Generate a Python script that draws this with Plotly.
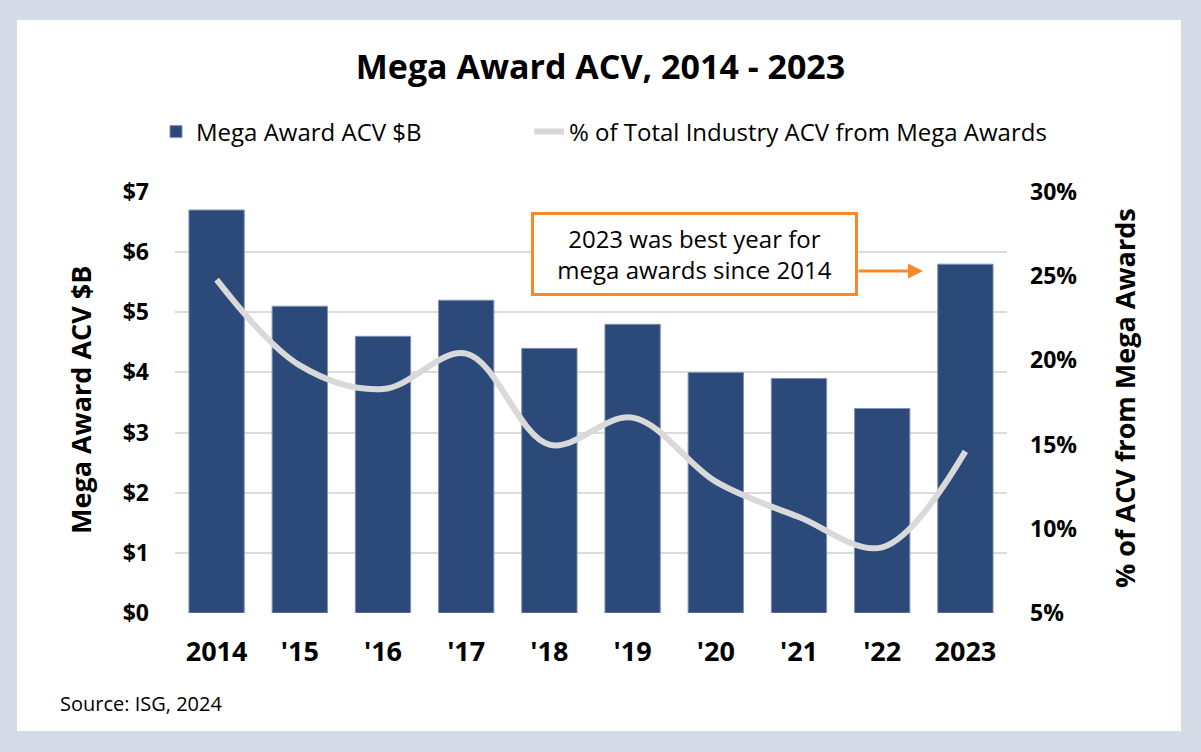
import plotly.graph_objects as go

# ---- data ----
categories = ["2014", "'15", "'16", "'17", "'18", "'19", "'20", "'21", "'22", "2023"]
acv_billions = [6.7, 5.1, 4.6, 5.2, 4.4, 4.8, 4.0, 3.9, 3.4, 5.8]
pct_total_acv = [24.8, 19.7, 18.3, 20.4, 15.0, 16.6, 12.8, 10.7, 8.9, 14.6]
left_tickvals = [0, 1, 2, 3, 4, 5, 6, 7]
left_ticktext = ["$0", "$1", "$2", "$3", "$4", "$5", "$6", "$7"]
right_tickvals = [5, 10, 15, 20, 25, 30]
right_ticktext = ["5%", "10%", "15%", "20%", "25%", "30%"]

BAR = "#2B4A7A"
LINE = "#D9D9D9"
ORANGE = "#F7892B"
FRAME = "#D5DBE6"
FONT = "Open Sans"

fig = go.Figure()
fig.add_trace(go.Bar(
    x=categories, y=acv_billions, name="Mega Award ACV $B",
    marker=dict(color=BAR, line=dict(color="#7F93B3", width=1)),
    legend="legend",
))
fig.add_trace(go.Scatter(
    x=categories, y=pct_total_acv, yaxis="y2", mode="lines",
    name="% of Total Industry ACV from Mega Awards",
    line=dict(color=LINE, width=6, shape="spline", smoothing=1.0),
    legend="legend2",
))

W, H = 1201, 752
L, R, T, B = 175, 194, 192, 139
pw, ph = W - L - R, H - T - B

def px_x(x):
    return (x - L) / pw

def px_y(y):
    return (H - B - y) / ph

legend_font = dict(size=24, family=FONT, color="black")

fig.update_layout(
    width=W, height=H,
    margin=dict(l=L, r=R, t=T, b=B, pad=0),
    paper_bgcolor=FRAME, plot_bgcolor="white",
    font=dict(family=FONT, color="black"),
    bargap=0.335,
    title=dict(text="Mega Award ACV, 2014 - 2023", x=0.5, xref="container",
               xanchor="center", y=1 - 67 / H, yref="container", yanchor="middle",
               font=dict(size=34, weight="bold", family=FONT, color="black")),
    showlegend=True,
    legend=dict(orientation="h", x=px_x(156), y=px_y(132), xanchor="left", yanchor="middle",
                font=legend_font, bgcolor="rgba(0,0,0,0)"),
    legend2=dict(orientation="h", x=px_x(529), y=px_y(132), xanchor="left", yanchor="middle",
                 font=legend_font, bgcolor="rgba(0,0,0,0)"),
    xaxis=dict(type="category", showgrid=False, showline=False, zeroline=False,
               tickfont=dict(size=27, weight="bold", family=FONT, color="black"),
               ticklabelstandoff=20),
    yaxis=dict(range=[0, 7], tickvals=left_tickvals, ticktext=left_ticktext,
               showgrid=True, gridcolor="#DCDCDC", gridwidth=1.5, zeroline=False,
               showline=False,
               tickfont=dict(size=23, weight="bold", family=FONT, color="black"),
               ticklabelstandoff=25),
    yaxis2=dict(range=[5, 30], tickvals=right_tickvals, ticktext=right_ticktext,
                overlaying="y", side="right", showgrid=False, zeroline=False,
                showline=False,
                tickfont=dict(size=23, weight="bold", family=FONT, color="black"),
                ticklabelstandoff=22),
    shapes=[dict(type="rect", xref="paper", yref="paper",
                 x0=px_x(17), x1=px_x(1181), y0=px_y(731), y1=px_y(20),
                 fillcolor="white", line=dict(width=0), layer="below")],
    annotations=[
        dict(text="Mega Award ACV $B", textangle=-90, xref="paper", yref="paper",
             x=px_x(80), y=px_y(400), showarrow=False, xanchor="center", yanchor="middle",
             font=dict(size=27, weight="bold", family=FONT, color="black")),
        dict(text="% of ACV from Mega Awards", textangle=-90, xref="paper", yref="paper",
             x=px_x(1124), y=px_y(398), showarrow=False, xanchor="center", yanchor="middle",
             font=dict(size=27, weight="bold", family=FONT, color="black")),
        dict(text="Source: ISG, 2024", xref="paper", yref="paper",
             x=px_x(58), y=px_y(703), showarrow=False, xanchor="left", yanchor="middle",
             font=dict(size=20, family=FONT, color="black")),
        dict(text="2023 was best year for<br>mega awards since 2014", xref="paper", yref="paper",
             x=px_x(694), y=px_y(253.5), showarrow=False, xanchor="center", yanchor="middle",
             width=311, height=68, borderpad=5, borderwidth=3, bordercolor=ORANGE,
             bgcolor="white", align="center",
             font=dict(size=24, family=FONT, color="black")),
        dict(text="", xref="x", yref="y", x=(923 - L) / (pw / len(categories)) - 0.5,
             y=(H - B - 271) / (ph / 7), ax=-66, ay=0, axref="pixel", ayref="pixel",
             showarrow=True, arrowhead=2, arrowsize=1, arrowwidth=3, arrowcolor=ORANGE,
             standoff=0, startstandoff=0),
    ],
)

fig.write_html("out.html", config={"displayModeBar": False},
               post_script="document.body.style.margin='0';")
